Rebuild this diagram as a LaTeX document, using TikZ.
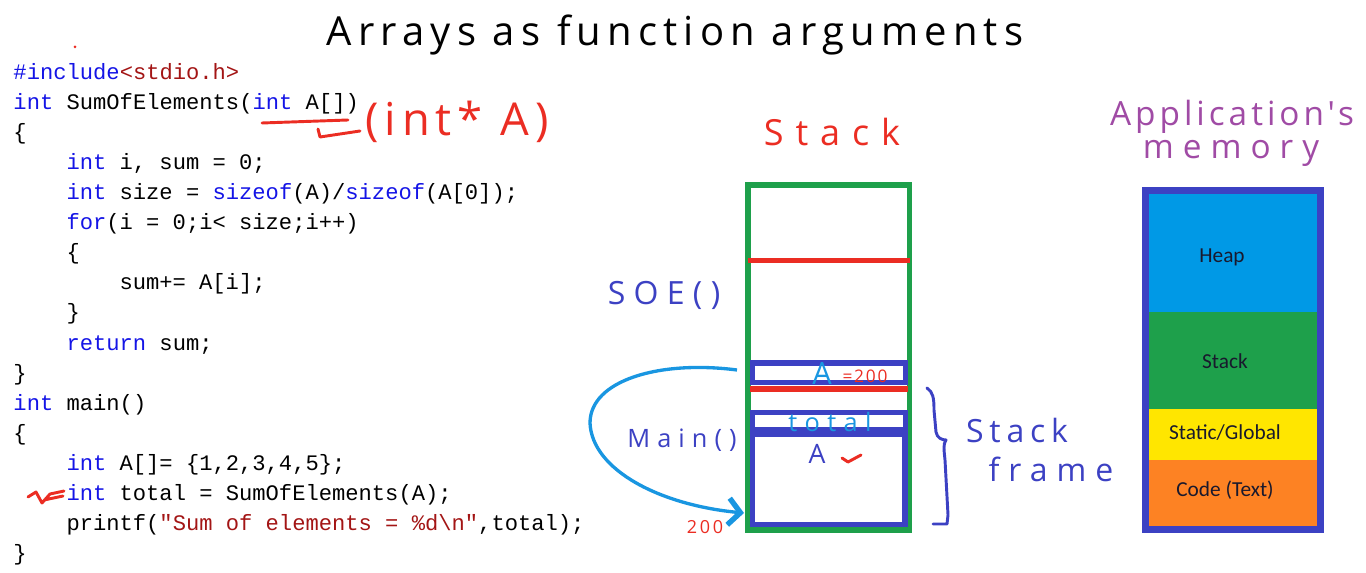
\documentclass[tikz,border=0pt]{standalone}
\usepackage{fontspec}
\usetikzlibrary{arrows.meta}

\newfontfamily\codefont{Liberation Mono}
\newfontfamily\handfont{Open Sans}
\newfontfamily\boxfont{Carlito}

\definecolor{kwblue}{RGB}{20,20,230}
\definecolor{strred}{RGB}{163,21,21}
\definecolor{inkred}{RGB}{235,45,35}
\definecolor{inkblue}{RGB}{60,65,195}
\definecolor{inkcyan}{RGB}{25,150,225}
\definecolor{inkpurple}{RGB}{160,75,165}
\definecolor{stkgreen}{RGB}{30,160,75}
\definecolor{heapblue}{RGB}{0,153,230}
\definecolor{segyellow}{RGB}{255,230,0}
\definecolor{segorange}{RGB}{253,130,35}

\newcommand{\kw}[1]{\textcolor{kwblue}{#1}}
\newcommand{\strc}[1]{\textcolor{strred}{#1}}

\tikzset{every picture/.style={line width=0.75pt},
  code/.style={anchor=base west, inner sep=0pt, font=\codefont\fontsize{16.6}{20}\selectfont},
  hand/.style 2 args={anchor=base, inner sep=0pt, font=\handfont\addfontfeature{LetterSpace=#2}\fontsize{#1}{#1}\selectfont},
  seglabel/.style={inner sep=0pt, text={rgb,255:red,25;green,25;blue,45}, font=\boxfont\fontsize{16}{18}\selectfont},
  pen/.style={line width=2.2, line cap=round, line join=round}}

\begin{document}
\begin{tikzpicture}[x=0.75pt,y=0.75pt,yscale=-1,xscale=1]
    \useasboundingbox (0,0) rectangle (1366,573);

    % Text Node
    \draw (675,46) node [hand={30}{15.5}] (title) {Arrays as function arguments};
    \fill [color=inkred] (75,47) circle (1.5) ;

    % code
    \draw (13,80) node [code] (ln1) {\kw{\#include}\strc{<stdio.h>}};
    \draw (13,110) node [code] (ln2) {\kw{int} SumOfElements(\kw{int} A[])};
    \draw (13,140) node [code] (ln3) {\{};
    \draw (66,170) node [code] (ln4) {\kw{int} i, sum = 0;};
    \draw (66,200) node [code] (ln5) {\kw{int} size = \kw{sizeof}(A)/\kw{sizeof}(A[0]);};
    \draw (66,230) node [code] (ln6) {\kw{for}(i = 0;i< size;i++)};
    \draw (66,260) node [code] (ln7) {\{};
    \draw (119,290) node [code] (ln8) {sum+= A[i];};
    \draw (66,320) node [code] (ln9) {\}};
    \draw (66,350) node [code] (ln10) {\kw{return} sum;};
    \draw (13,380) node [code] (ln11) {\}};
    \draw (13,410) node [code] (ln12) {\kw{int} main()};
    \draw (13,440) node [code] (ln13) {\{};
    \draw (66,470) node [code] (ln14) {\kw{int} A[]= \{1,2,3,4,5\};};
    \draw (66,500) node [code] (ln15) {\kw{int} total = SumOfElements(A);};
    \draw (66,530) node [code] (ln16) {printf(\strc{"Sum of elements = \%d\textbackslash n"},total);};
    \draw (13,560) node [code] (ln17) {\}};

    % red notes on the code
    \draw [color=inkred][pen] (262,123) -- (348,120) ;
    \draw [color=inkred][pen] (318,129) -- (320,137) -- (360,131) ;
    \draw (457,136) node [hand={34}{13}, text=inkred] (ptr) {(int* A)};
    \draw [color=inkred][pen] (28,497) -- (36,492) -- (42,503) -- (50,494) -- (64,491) (44,500) -- (63,496) ;

    % Stack
    \draw (832,146) node [hand={27}{33}, text=inkred] (stacktitle) {Stack};
    \draw [color=stkgreen][line width=4] (748,185) rectangle (909.5,530) ;
    \draw [color=inkred][line width=4] (748,260.5) -- (909.5,260.5) ;
    \draw [color=inkblue][line width=4] (752.5,363) rectangle (905.5,382.5) ;
    \draw [color=inkred][line width=4] (750,389) -- (907.5,389) ;
    \draw [color=inkblue][line width=4] (752.5,412.5) rectangle (905.5,430) ;
    \draw [color=inkblue][line width=4] (752.5,434) rectangle (905,524.5) ;

    % Text Node
    \draw (822,384) node [hand={23}{0}, text=inkcyan] (argA) {A};
    \draw (865,382) node [hand={13}{10}, text=inkred] (argval) {=200};
    \draw (830,431) node [hand={19}{29}, text=inkcyan] (tot) {total};
    \draw (817,463) node [hand={20}{0}, text=inkblue] (arrA) {A};
    \draw [color=inkred][pen] (842,458) -- (848,462) -- (861,455) ;
    \draw (664,305) node [hand={24}{26}, text=inkblue] (soe) {SOE()};
    \draw (682,447) node [hand={19}{28}, text=inkblue] (mainlbl) {Main()};
    \draw (705,533) node [hand={13.5}{15}, text=inkred] (addr) {200};

    % arrow from A to base of A[]
    \coordinate (argtail) at (737,370);
    \coordinate (arrbase) at (744,513);
    \draw [color=inkcyan][line width=2.5, -{Straight Barb[length=9,width=20,line width=4]}] (argtail) .. controls (660,360) and (590,380) .. (590,423) .. controls (592,470) and (660,505) .. (arrbase) ;

    % Stack frame brace
    \draw [color=inkblue][pen] (927,388) .. controls (933,392) and (934,398) .. (934,410) -- (936,432) .. controls (937,438) and (942,440) .. (946,440) .. controls (943,444) and (944,450) .. (945,460) -- (948,515) -- (947,524) -- (933,524) ;
    \draw (1017,442) node [hand={24}{18}, text=inkblue] (sf1) {Stack};
    \draw (1051,481) node [hand={24}{28}, text=inkblue] (sf2) {frame};

    % Application's memory
    \draw (1232,126) node [hand={25}{12}, text=inkpurple] (app1) {Application's};
    \draw (1231,159) node [hand={25}{27}, text=inkpurple] (app2) {memory};
    \fill [color=heapblue] (1148,193) rectangle (1318,312) ;
    \fill [color=stkgreen] (1148,312) rectangle (1318,409) ;
    \fill [color=segyellow] (1148,409) rectangle (1318,460) ;
    \fill [color=segorange] (1148,460) rectangle (1318,527) ;
    \draw [color=inkblue][line width=5] (1145.5,190.5) rectangle (1320.5,529.5) ;
    \draw (1222,257) node [seglabel] (heap) {Heap};
    \draw (1225,361) node [seglabel] (stk) {Stack};
    \draw (1225,433) node [seglabel] (stat) {Static/Global};
    \draw (1225,490) node [seglabel] (codeseg) {Code (Text)};

\end{tikzpicture}
\end{document}
